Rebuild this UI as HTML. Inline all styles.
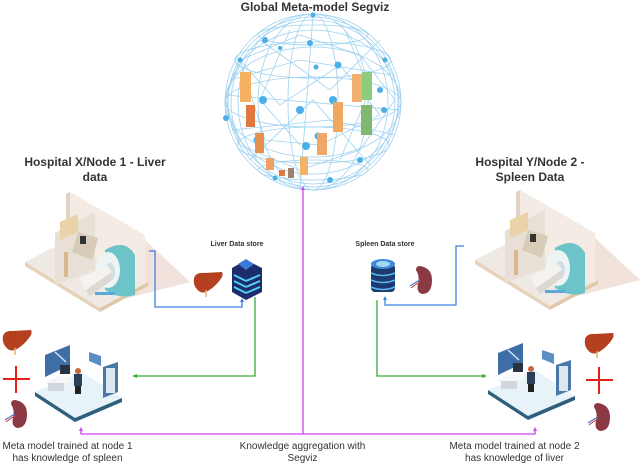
<!DOCTYPE html>
<html><head><meta charset="utf-8"><style>
html,body{margin:0;padding:0;background:#fff}
body{width:640px;height:465px;overflow:hidden;position:relative;font-family:"Liberation Sans",sans-serif}
.t{position:absolute;text-align:center;color:#333;white-space:nowrap}
.b{font-weight:bold}
</style></head><body>
<svg width="640" height="465" style="position:absolute;left:0;top:0" xmlns="http://www.w3.org/2000/svg">
<defs>
<g id="room">
  <polygon points="145,240 190,282 120,300" fill="#f1e2dc"/>
  <polygon points="25,262 72,238 148,282 100,308" fill="#efe9e3"/>
  <polygon points="25,262 100,308 100,312 25,266" fill="#e6d2b8"/>
  <polygon points="100,308 148,282 148,286 100,312" fill="#e0c8a8"/>
  <polygon points="70,192 145,235 145,285 70,242" fill="#f3ebe4"/>
  <polygon points="66,194 70,192 70,242 66,244" fill="#e0d2c4"/>
  <polygon points="55,233 95,212 95,270 55,285" fill="#e8dfd6"/>
  <polygon points="60,222 78,214 78,232 60,240" fill="#ead3a8"/>
  <polygon points="78,232 98,238 92,260 72,252" fill="#d8cbb8"/>
  <rect x="80" y="236" width="6" height="8" fill="#333"/>
  <rect x="64" y="252" width="4" height="25" fill="#d9b890"/>
  <path d="M105,250 Q125,238 135,255 L135,295 Q120,300 105,290 Z" fill="#6cc3c8"/>
  <ellipse cx="108" cy="270" rx="12" ry="18" fill="#eef4f6"/>
  <ellipse cx="110" cy="272" rx="5" ry="9" fill="#cfdfe3"/>
  <polygon points="80,278 108,266 112,272 86,290" fill="#f5f3f0"/>
  <polygon points="86,290 112,272 112,280 90,296" fill="#dcd8d2"/>
  <rect x="95" y="292" width="20" height="3" fill="#5aa9d8"/>
</g>
<g id="ws">
  <polygon points="35,392 82,372 122,398 75,418" fill="#e8f3f9"/>
  <polygon points="35,392 75,418 75,422 35,396" fill="#2e5f7e"/>
  <polygon points="75,418 122,398 122,402 75,422" fill="#2e5f7e"/>
  <polygon points="45,355 70,345 70,365 45,377" fill="#3f6ea6"/>
  <line x1="55" y1="352" x2="66" y2="362" stroke="#cfe3f2" stroke-width="1.5"/>
  <polygon points="89,352 101,356 101,366 89,361" fill="#5b8ec4"/>
  <polygon points="103,367 118,362 118,392 103,398" fill="#4b78a8"/>
  <rect x="106" y="368" width="9" height="25" fill="#dbe8f0"/>
  <polygon points="45,382 65,374 72,380 52,390" fill="#f4f6f7"/>
  <rect x="48" y="383" width="16" height="8" fill="#d0d6dc"/>
  <rect x="60" y="365" width="10" height="9" fill="#263442"/>
  <circle cx="78" cy="371" r="3" fill="#c46a3a"/>
  <rect x="74" y="374" width="8" height="12" fill="#2b3f58"/>
  <rect x="75" y="386" width="6" height="8" fill="#222"/>
</g>
<g id="liver">
  <path d="M0,6 Q2,0 10,1 L28,0 Q30,3 26,8 Q20,16 12,20 Q6,22 2,16 Q-1,12 0,6 Z" fill="#b5401f"/>
  <line x1="12" y1="18" x2="12" y2="25" stroke="#e6b070" stroke-width="1.5"/>
</g>
<g id="spleen">
  <path d="M10,0 Q22,2 22,14 Q22,28 12,28 Q6,26 8,18 Q10,10 6,4 Q6,0 10,0 Z" fill="#8b3a45"/>
  <path d="M0,20 Q6,16 10,14" stroke="#3a7ad0" stroke-width="1.2" fill="none"/>
  <path d="M1,22 Q6,18 10,16" stroke="#d84030" stroke-width="1" fill="none"/>
</g>
<g id="plus">
  <line x1="0" y1="13" x2="27" y2="13" stroke="#e8201c" stroke-width="2"/>
  <line x1="13" y1="0" x2="13" y2="27" stroke="#e8201c" stroke-width="2"/>
</g>
</defs>

<!-- globe -->
<g stroke="#9fd2f0" stroke-width="0.8" fill="none">
  <circle cx="313" cy="102" r="88"/>
  <circle cx="313" cy="102" r="85"/>
  <circle cx="313" cy="102" r="82"/>
  <ellipse cx="313" cy="102" rx="88" ry="25"/>
  <ellipse cx="313" cy="102" rx="88" ry="55"/>
  <ellipse cx="313" cy="102" rx="86" ry="72"/>
  <ellipse cx="313" cy="102" rx="25" ry="88"/>
  <ellipse cx="313" cy="102" rx="55" ry="88"/>
  <ellipse cx="313" cy="102" rx="75" ry="88"/>
  <ellipse cx="313" cy="60" rx="78" ry="18"/>
  <ellipse cx="313" cy="145" rx="76" ry="18"/>
  <ellipse cx="313" cy="35" rx="55" ry="10"/>
  <ellipse cx="313" cy="170" rx="55" ry="10"/>
  <path d="M240,60 L300,35 L360,55 L395,100 L360,150 L300,170 L240,145 L225,100 Z"/>
  <path d="M260,40 L330,90 L380,40 M250,160 L313,100 L370,165 M225,95 L400,110 M313,15 L300,190"/>
  <path d="M240,60 L280,105 L340,65 L380,115 L320,145 L265,140 L240,60"/>
  <path d="M290,30 L260,100 L300,145 M345,30 L370,90 L340,160 M230,80 L300,60 L390,75 M232,130 L330,120 L395,135"/>
</g>
<g fill="#4aaee8">
  <circle cx="313" cy="15" r="2.5"/><circle cx="265" cy="40" r="3"/><circle cx="310" cy="43" r="3"/><circle cx="338" cy="65" r="3.5"/>
  <circle cx="316" cy="67" r="2.5"/><circle cx="263" cy="100" r="4"/><circle cx="300" cy="110" r="4"/><circle cx="333" cy="100" r="4"/>
  <circle cx="384" cy="110" r="3"/><circle cx="226" cy="118" r="3"/><circle cx="257" cy="140" r="3.5"/><circle cx="306" cy="146" r="4"/>
  <circle cx="318" cy="136" r="3.5"/><circle cx="360" cy="160" r="3"/><circle cx="330" cy="180" r="3"/><circle cx="275" cy="178" r="2.5"/>
  <circle cx="385" cy="60" r="2.5"/><circle cx="240" cy="60" r="2.5"/><circle cx="380" cy="90" r="3"/><circle cx="280" cy="48" r="2"/>
</g>
<g>
  <rect x="240" y="72" width="11" height="30" fill="#f5b060"/>
  <rect x="246" y="105" width="9" height="22" fill="#e07840"/>
  <rect x="255" y="133" width="9" height="20" fill="#e89050"/>
  <rect x="266" y="158" width="8" height="12" fill="#f0a060"/>
  <rect x="279" y="170" width="6" height="6" fill="#e07840"/>
  <rect x="288" y="168" width="6" height="10" fill="#a08070"/>
  <rect x="300" y="157" width="8" height="18" fill="#f3b468"/>
  <rect x="317" y="133" width="10" height="22" fill="#f0a868"/>
  <rect x="333" y="102" width="10" height="30" fill="#f0a860"/>
  <rect x="352" y="74" width="10" height="28" fill="#f0b070"/>
  <rect x="362" y="72" width="10" height="28" fill="#8ccc7c"/>
  <rect x="361" y="105" width="11" height="30" fill="#7fb86e"/>
</g>

<!-- rooms -->
<use href="#room"/>
<use href="#room" transform="translate(450,-2)"/>
<use href="#ws"/>
<use href="#ws" transform="translate(453,-2)"/>

<!-- organs -->
<use href="#liver" transform="translate(3,330)"/>
<use href="#plus" transform="translate(3,366)"/>
<use href="#spleen" transform="translate(5,400)"/>
<use href="#liver" transform="translate(585,333)"/>
<use href="#plus" transform="translate(586,367)"/>
<use href="#spleen" transform="translate(588,403)"/>
<use href="#liver" transform="translate(194,272)"/>
<use href="#spleen" transform="translate(410,266)"/>

<!-- liver data store server -->
<g>
  <polygon points="232,268 246,260 262,268 262,292 246,300 232,292" fill="#1d2c6a"/>
  <polygon points="238,264 246,259 254,264 246,270" fill="#3a7ad8"/>
  <g stroke="#4fd0f5" stroke-width="2">
    <line x1="234" y1="275" x2="246" y2="281"/><line x1="246" y1="281" x2="260" y2="275"/>
    <line x1="234" y1="281" x2="246" y2="287"/><line x1="246" y1="287" x2="260" y2="281"/>
    <line x1="234" y1="287" x2="246" y2="293"/><line x1="246" y1="293" x2="260" y2="287"/>
  </g>
</g>
<!-- spleen db -->
<g>
  <rect x="371" y="264" width="24" height="28" rx="4" fill="#1d3a70"/>
  <ellipse cx="383" cy="264" rx="12" ry="5" fill="#3f8ad8"/>
  <ellipse cx="383" cy="264" rx="7" ry="3" fill="#9fd8f5"/>
  <g stroke="#5ab8ec" stroke-width="1.5" fill="none">
    <path d="M371,273 Q383,278 395,273"/><path d="M371,280 Q383,285 395,280"/><path d="M371,287 Q383,292 395,287"/>
  </g>
</g>

<!-- connectors -->
<g fill="none" stroke-width="1.3">
  <polyline points="149,251 155,251 155,307 242,307 242,301" stroke="#3b82e0"/>
  <polyline points="464,246 456,246 456,305 385,305 385,299" stroke="#3b82e0"/>
  <polyline points="255,297 255,376 134,376" stroke="#3aa83a"/>
  <polyline points="377,300 377,376 484,376" stroke="#3aa83a"/>
  <polyline points="303,188 303,434 81,434 81,430" stroke="#cc44ee"/>
  <polyline points="303,434 535,434 535,430" stroke="#cc44ee"/>
</g>
<g>
  <polygon points="132,376 137,374 137,378" fill="#3aa83a"/>
  <polygon points="487,376 482,374 482,378" fill="#3aa83a"/>
  <polygon points="242,298 240,302 244,302" fill="#3b82e0"/>
  <polygon points="385,296 383,300 387,300" fill="#3b82e0"/>
  <polygon points="81,427 79,431 83,431" fill="#cc44ee"/>
  <polygon points="535,427 533,431 537,431" fill="#cc44ee"/>
  <polygon points="303,186 301,190 305,190" fill="#cc44ee"/>
</g>
</svg>

<div class="t b" style="left:215px;top:0;width:200px;font-size:12px;line-height:14px">Global Meta-model Segviz</div>
<div class="t b" style="left:0;top:155px;width:190px;font-size:12px;line-height:15px">Hospital X/Node 1 - Liver<br>data</div>
<div class="t b" style="left:440px;top:155px;width:180px;font-size:12px;line-height:15px">Hospital Y/Node 2 -<br>Spleen Data</div>
<div class="t b" style="left:197px;top:241px;width:80px;font-size:7px">Liver Data store</div>
<div class="t b" style="left:345px;top:241px;width:80px;font-size:7px">Spleen Data store</div>
<div class="t" style="left:-10px;top:441px;width:155px;font-size:10px;line-height:12px">Meta model trained at node 1<br>has knowledge of spleen</div>
<div class="t" style="left:225px;top:441px;width:155px;font-size:10px;line-height:12px">Knowledge aggregation with<br>Segviz</div>
<div class="t" style="left:437px;top:441px;width:155px;font-size:10px;line-height:12px">Meta model trained at node 2<br>has knowledge of liver</div>
</body></html>
